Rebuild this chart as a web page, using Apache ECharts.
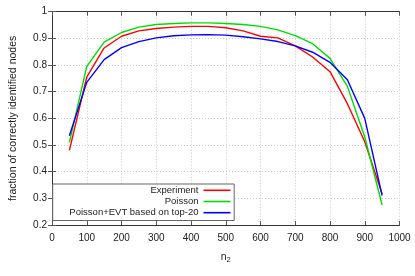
<!DOCTYPE html>
<html><head><meta charset="utf-8">
<script src="https://cdn.jsdelivr.net/npm/echarts@6/dist/echarts.min.js"></script>
<style>html,body{margin:0;padding:0;background:#fff}#c{width:415px;height:276px}</style>
</head><body><div id="c"></div>
<script>
const xValues = [50,100,150,200,250,300,350,400,450,500,550,600,650,700,750,800,850,900,950];
const experiment = [0.48,0.755,0.864,0.908,0.928,0.937,0.942,0.945,0.945,0.94,0.928,0.908,0.902,0.872,0.83,0.775,0.655,0.512,0.316];
const poisson = [0.51,0.795,0.886,0.922,0.942,0.952,0.956,0.958,0.958,0.956,0.952,0.945,0.932,0.91,0.88,0.825,0.72,0.53,0.275];
const poissonEvt = [0.535,0.735,0.82,0.865,0.888,0.902,0.91,0.913,0.914,0.912,0.906,0.898,0.888,0.872,0.848,0.81,0.745,0.6,0.31];
const seriesNames = ['Experiment','Poisson','Poisson+EVT based on top-20'];
const seriesColors = ['#ff0000','#00dd00','#0000ff'];
const yName = 'fraction of correctly identified nodes';

const FONT = 'Liberation Sans';
const chart = echarts.init(document.getElementById('c'), null, {renderer:'canvas'});
const L = 47.5, R = 399.5, T = 11.7, B = 225;
const axisLine = {show:true, lineStyle:{color:'#333', width:1}};
const tick = {show:true, inside:true, length:4, lineStyle:{color:'#555'}};
const split = {show:true, lineStyle:{color:'#c8c8c8', type:[1,2], width:1}};
const datasets = [experiment, poisson, poissonEvt];
const rowCenters = [191.3, 202.5, 213.7];
const legends = seriesNames.map((n,i)=>({
  data:[n], orient:'vertical', align:'right', right: 415-230.5, top: rowCenters[i]-6,
  itemWidth: 27, itemHeight: 12, itemGap: 0, padding: 0, z: 20,
  textStyle:{fontFamily:FONT, fontSize:9.5, color:'#222'},
  icon: 'path://M0,5.2 L27,5.2 L27,6.8 L0,6.8 Z',
  selectedMode:false
}));
chart.setOption({
  animation:false,
  grid:{left:L, right:415-R, top:T, bottom:276-B},
  graphic:[{type:'rect', shape:{x:52.7, y:184, width:181.5, height:36.5}, style:{fill:'#fff', stroke:'#666', lineWidth:1}, z:10}],
  legend: legends,
  xAxis:[{
    type:'value', min:0, max:1000, interval:100, position:'bottom',
    name:'{a|n}{b|2}', nameLocation:'middle', nameGap:26,
    nameTextStyle:{rich:{a:{fontFamily:FONT, fontSize:10.5, color:'#222'}, b:{fontFamily:FONT, fontSize:7.5, color:'#222', verticalAlign:'bottom', padding:[5,0,0,0]}}},
    axisLine, axisTick:tick,
    axisLabel:{fontFamily:FONT, fontSize:10, color:'#222', margin:8, formatter:v=>String(v)},
    splitLine:split
  },{
    type:'value', min:0, max:1000, interval:100, position:'top',
    axisLine, axisTick:tick, axisLabel:{show:false}, splitLine:{show:false}
  }],
  yAxis:[{
    type:'value', min:0.2, max:1, interval:0.1, position:'left',
    name:yName, nameLocation:'middle', nameGap:33,
    nameTextStyle:{fontFamily:FONT, fontSize:10.5, color:'#222'},
    axisLine, axisTick:tick,
    axisLabel:{fontFamily:FONT, fontSize:10, color:'#222', margin:5, formatter:v=>String(Math.round(v*10)/10)},
    splitLine:split
  },{
    type:'value', min:0.2, max:1, interval:0.1, position:'right',
    axisLine, axisTick:tick, axisLabel:{show:false}, splitLine:{show:false}
  }],
  series: datasets.map((d,i)=>({
    name:seriesNames[i], type:'line', showSymbol:false, symbol:'none',
    data: xValues.map((x,j)=>[x,d[j]]),
    lineStyle:{color:seriesColors[i], width:1.4}, itemStyle:{color:seriesColors[i]}, z:2
  }))
});
</script></body></html>
